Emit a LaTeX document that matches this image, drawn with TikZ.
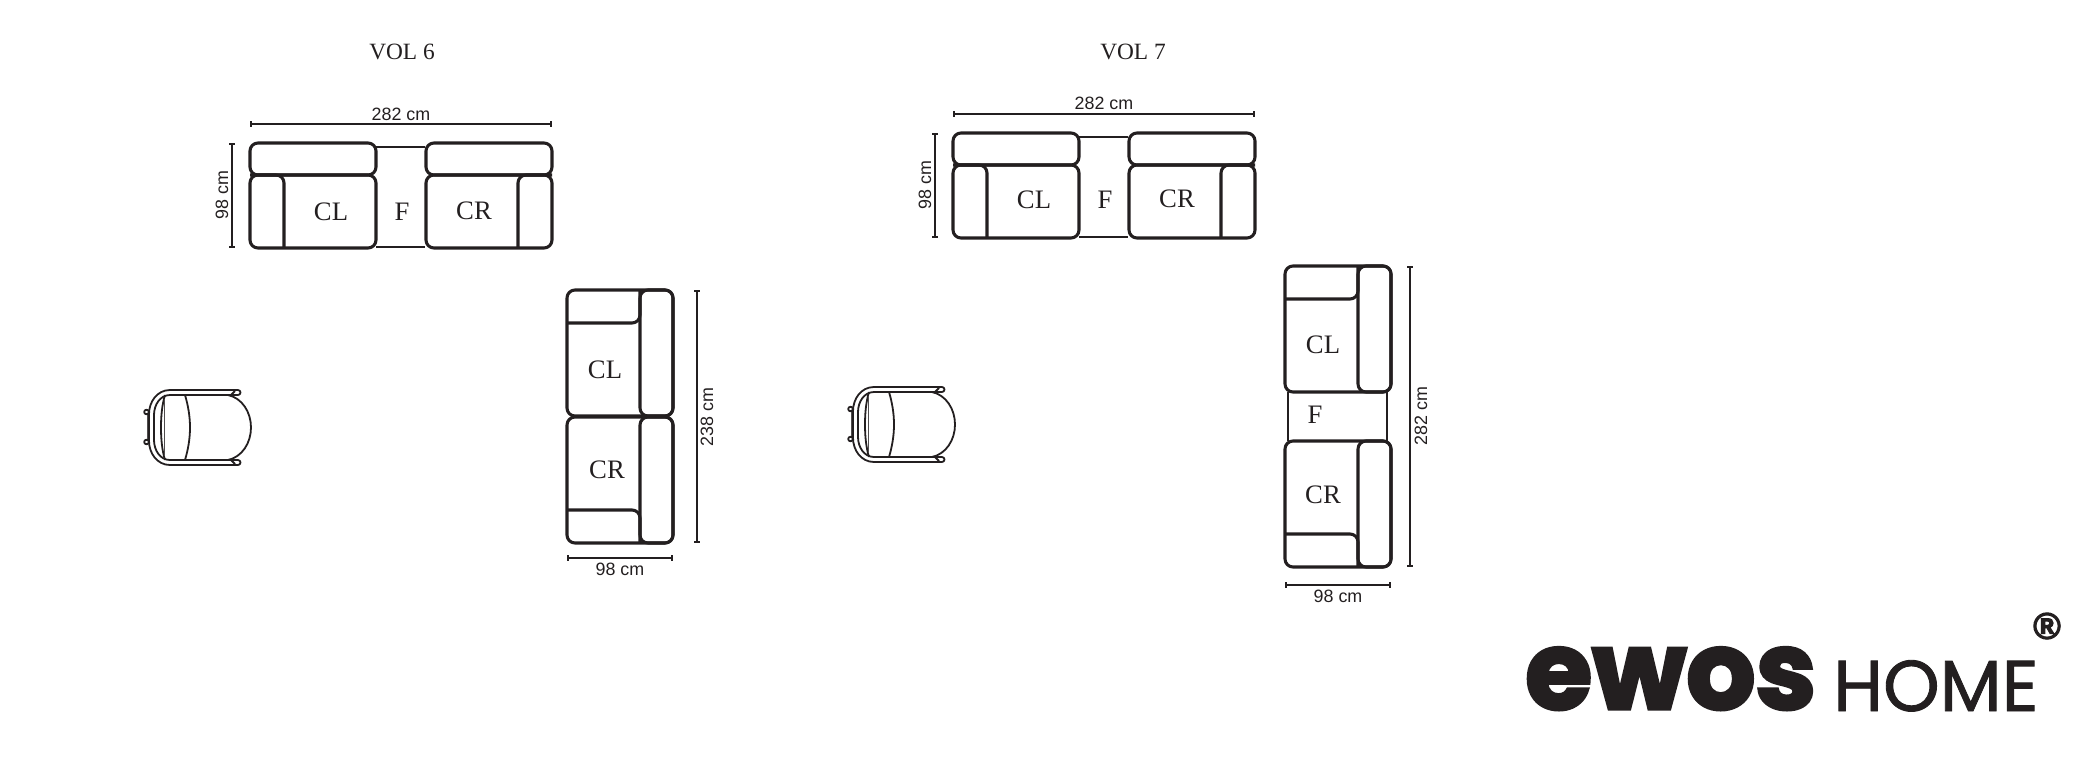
\documentclass[tikz,border=0pt]{standalone}
\usepackage{fontspec}
\setmainfont{Liberation Serif}
\setsansfont{Liberation Sans}
\newfontfamily\ewosfont[FakeBold=3]{Poppins Bold}
\newfontfamily\homefont[FakeBold=1.2]{Poppins}
\newfontfamily\regfont[FakeBold=3]{Liberation Sans Bold}
\usetikzlibrary{arrows.meta}
\definecolor{ink}{HTML}{231F20}
\tikzset{
  sofa/.style={draw=ink,line width=2.3pt,rounded corners=6pt,line join=round},
  plain/.style={draw=ink,line width=1.8pt,line join=round},
  dimline/.style={draw=ink,line width=1.2pt,{Bar[width=4pt,length=0.6pt]}-{Bar[width=4pt,length=0.6pt]}},
  dimtext/.style={font=\sffamily\fontsize{13.4}{13.4}\selectfont,text=ink,inner sep=0pt},
  voltext/.style={font=\rmfamily\fontsize{17.5}{17.5}\selectfont,text=ink,inner sep=0pt},
  modtext/.style={font=\rmfamily\fontsize{20}{20}\selectfont,text=ink,inner sep=0pt},
  chairline/.style={draw=ink,line width=1.35pt,line join=round},
  chairthin/.style={draw=ink!80,line width=0.7pt},
}
\newcommand{\halfh}{%
  \draw[sofa] (0,32) rectangle (126,105);
  \draw[sofa] (34,105) -- (34,32) -- (0,32);
  \draw[sofa] (0,0) rectangle (126,32);
}
\newcommand{\hsofa}[2]{%
  \begin{scope}[shift={(#1,#2)}]
    \draw[plain] (126,4) -- (175,4) (126,104) -- (175,104);
    \halfh
    \begin{scope}[shift={(302,0)},xscale=-1]\halfh\end{scope}
  \end{scope}
}
\newcommand{\halfv}{%
  \draw[sofa] (0,0) rectangle (106,126);
  \draw[sofa] (73,0) rectangle (106,126);
  \draw[sofa] (0,33) -- (73,33) -- (73,0);
}
\newcommand{\chairshape}[2]{%
  \begin{scope}[shift={(#1,#2)}]
    % frame
    \draw[chairline] (238,395) -- (170,395) .. controls (160,395) and (154,405) .. (154,415) -- (154,440) .. controls (154,450) and (160,460) .. (170,460) -- (238,460);
    \draw[chairline] (238,390) -- (170,390) .. controls (157,390) and (149,402) .. (149,414) -- (149,441) .. controls (149,453) and (157,465) .. (170,465) -- (238,465);
    \draw[chairline] (238,390) arc[start angle=-90,end angle=90,radius=2.5];
    \draw[chairline] (238,460) arc[start angle=-90,end angle=90,radius=2.5];
    % seat
    \draw[chairline] (228,395) .. controls (242,398) and (251,412) .. (251,427.5) .. controls (251,443) and (242,457) .. (228,460);
    % cushion
    \draw[chairline] (185,395) .. controls (188,405) and (190,416) .. (190,427.5) .. controls (190,439) and (188,450) .. (185,460);
    \draw[chairline] (165,395) .. controls (162,405) and (161,416) .. (161,427.5) .. controls (161,439) and (162,450) .. (165,460);
    \draw[chairthin] (164,400) -- (164,455);
    % feet
    \draw[chairline] (231,395) -- (235,391) (231,460) -- (235,464);
    % back
    \draw[chairthin] (147,414) -- (147,441);
    \draw[chairline,fill=white] (146.5,412) circle (2.3);
    \draw[chairline,fill=white] (146.5,442) circle (2.3);
  \end{scope}
}
\begin{document}
\begin{tikzpicture}[x=0.75pt,y=-0.75pt]
\useasboundingbox (0,0) rectangle (2094,767);
% VOL 6
\node[voltext] (vol6) at (402,52) {VOL 6};
\hsofa{250}{143}
\coordinate (a1) at (250,124); \coordinate (a2) at (552,124);
\draw[dimline] (a1) -- (a2);
\node[dimtext] (d1) at (401,114) {282 cm};
\coordinate (b1) at (232,143); \coordinate (b2) at (232,248);
\draw[dimline] (b1) -- (b2);
\node[dimtext,rotate=90] (d2) at (222,195) {98 cm};
\node[modtext] (m1) at (331,212) {CL};
\node[modtext] (m2) at (402,212) {F};
\node[modtext] (m3) at (474,211) {CR};
\begin{scope}[shift={(567,290)}]
  \halfv
  \begin{scope}[shift={(0,253)},yscale=-1]\halfv\end{scope}
\end{scope}
\coordinate (c1) at (697,290); \coordinate (c2) at (697,543);
\draw[dimline] (c1) -- (c2);
\node[dimtext,rotate=90] (d3) at (707,417) {238 cm};
\coordinate (e1) at (567,558); \coordinate (e2) at (673,558);
\draw[dimline] (e1) -- (e2);
\node[dimtext] (d4) at (620,569) {98 cm};
\node[modtext] (m4) at (605,370) {CL};
\node[modtext] (m5) at (607,470) {CR};
\chairshape{0}{0}
% VOL 7
\node[voltext] (vol7) at (1133,52) {VOL 7};
\hsofa{953}{133}
\coordinate (f1) at (953,114); \coordinate (f2) at (1255,114);
\draw[dimline] (f1) -- (f2);
\node[dimtext] (d5) at (1104,103) {282 cm};
\coordinate (g1) at (935,133); \coordinate (g2) at (935,238);
\draw[dimline] (g1) -- (g2);
\node[dimtext,rotate=90] (d6) at (925,185) {98 cm};
\node[modtext] (m6) at (1034,200) {CL};
\node[modtext] (m7) at (1105,200) {F};
\node[modtext] (m8) at (1177,199) {CR};
\begin{scope}[shift={(1285,266)}]
  \draw[plain] (3,126) -- (3,175) (102,126) -- (102,175);
  \halfv
  \begin{scope}[shift={(0,301)},yscale=-1]\halfv\end{scope}
\end{scope}
\coordinate (h1) at (1410,266); \coordinate (h2) at (1410,567);
\draw[dimline] (h1) -- (h2);
\node[dimtext,rotate=90] (d7) at (1421,416) {282 cm};
\coordinate (i1) at (1285,585); \coordinate (i2) at (1391,585);
\draw[dimline] (i1) -- (i2);
\node[dimtext] (d8) at (1338,596) {98 cm};
\node[modtext] (m9) at (1323,345) {CL};
\node[modtext] (m10) at (1315,415) {F};
\node[modtext] (m11) at (1323,495) {CR};
\chairshape{704}{-3}
% logo
\node[anchor=base west,inner sep=0pt,text=ink] (ewos) at (1525,709) {\ewosfont\fontsize{81.5}{81.5}\selectfont ewos};
\node[anchor=base west,inner sep=0pt,text=ink] (home) at (1833,711) {\homefont\fontsize{54}{54}\selectfont HOME};
\node[anchor=center,inner sep=0pt,text=ink] (reg) at (2047,626) {\regfont\fontsize{28}{28}\selectfont ®};
\end{tikzpicture}
\end{document}
